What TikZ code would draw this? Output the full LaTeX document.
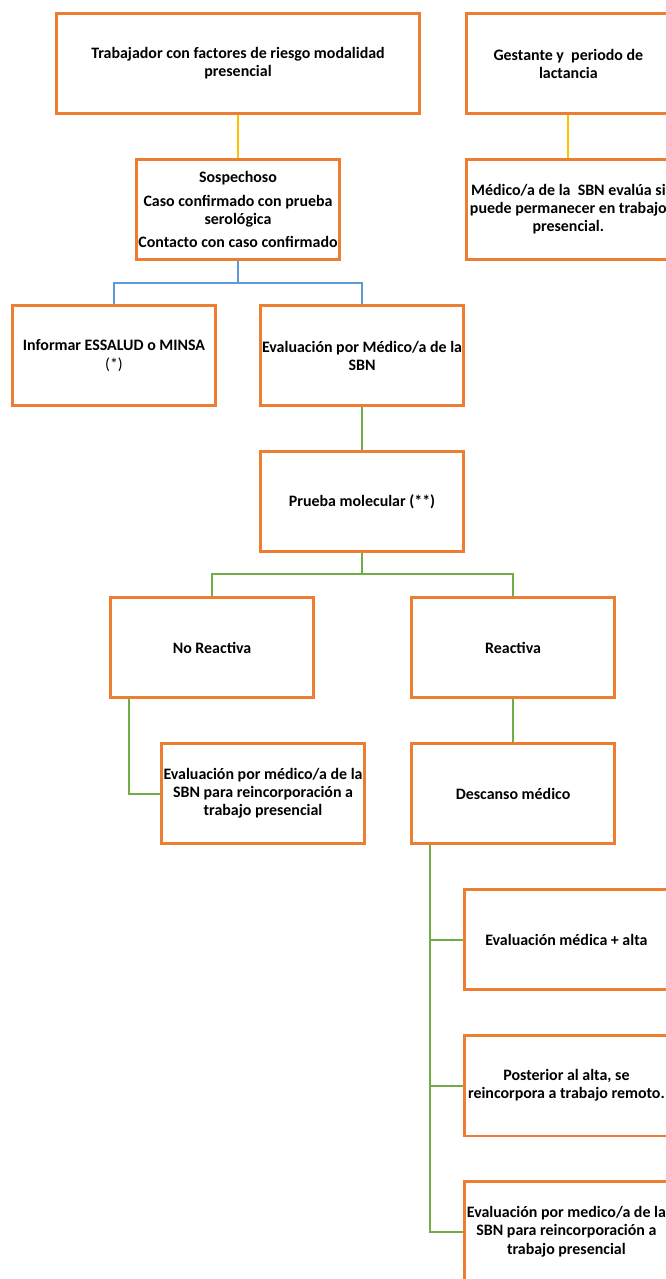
\documentclass[tikz,border=0pt]{standalone}
\usepackage{fontspec}
\setmainfont{Carlito}
\usepackage{xcolor}
\definecolor{fcOrangeDraw}{RGB}{237,125,49}
\definecolor{fcYellowLine}{RGB}{255,192,0}
\definecolor{fcBlueLine}{RGB}{91,155,213}
\definecolor{fcGreenLine}{RGB}{112,173,71}
\usetikzlibrary{positioning}

\begin{document}
\begin{tikzpicture}[
    fcbox/.style={draw=fcOrangeDraw, line width=2.3pt, fill=white, align=center,
      minimum width=6.1cm, minimum height=3.01cm, inner sep=0pt,
      font=\bfseries\fontsize{13.6}{15.4}\selectfont},
    widebox/.style={fcbox, minimum width=10.9cm},
    link/.style={line width=1.7pt},
    yellowlink/.style={link, draw=fcYellowLine},
    bluelink/.style={link, draw=fcBlueLine},
    greenlink/.style={link, draw=fcGreenLine},
    node distance=1.29cm and 1.26cm
  ]
    \fill[white] (0,0) rectangle (19.98,-38.37);
    \useasboundingbox (0,0) rectangle (19.98,-38.37);
    \clip (0,0) rectangle (19.98,-38.37);

    \node[widebox] (trabajador) at (7.14,-1.905) {Trabajador con factores de riesgo modalidad\\presencial};
    \node[fcbox, right=1.33cm of trabajador] (gestante) {Gestante y\ \ periodo de\\lactancia};

    \node[fcbox, below=of trabajador] (sospechoso) {Sospechoso\\[5pt]Caso confirmado con prueba\\serológica\\[5pt]Contacto con caso confirmado};
    \node[fcbox, below=of gestante] (medico) {Médico/a de la\ \ SBN evalúa si\\puede permanecer en trabajo\\presencial.};

    \node[fcbox, below=of sospechoso, xshift=-3.72cm] (informar) {Informar ESSALUD o MINSA\\{\mdseries(*)}};
    \node[fcbox, right=of informar] (evaluacion) {Evaluación por Médico/a de la\\SBN};
    \node[fcbox, below=of evaluacion] (prueba) {Prueba molecular (**)};

    \node[fcbox, below=of prueba, xshift=-4.5cm] (noreactiva) {No Reactiva};
    \node[fcbox, right=2.85cm of noreactiva] (reactiva) {Reactiva};
    \node[fcbox, below=of noreactiva, xshift=1.53cm] (reingreso) {Evaluación por médico/a de la\\SBN para reincorporación a\\trabajo presencial};
    \node[fcbox, below=of reactiva] (descanso) {Descanso médico};

    \node[fcbox, below=of descanso, xshift=1.6cm] (alta) {Evaluación médica + alta};
    \node[fcbox, below=of alta] (remoto) {Posterior al alta, se\\reincorpora a trabajo remoto.};
    \node[fcbox, below=of remoto] (presencial) {Evaluación por medico/a de la\\SBN para reincorporación a\\trabajo presencial};

    \draw[yellowlink] (trabajador) -- (sospechoso);
    \draw[yellowlink] (gestante) -- (medico);
    \draw[bluelink] (sospechoso.south) -- ++(0,-0.645) -| (informar.north);
    \draw[bluelink] (sospechoso.south) -- ++(0,-0.645) -| (evaluacion.north);
    \draw[greenlink] (evaluacion) -- (prueba);
    \draw[greenlink] (prueba.south) -- ++(0,-0.63) -| (noreactiva.north);
    \draw[greenlink] (prueba.south) -- ++(0,-0.63) -| (reactiva.north);
    \draw[greenlink] ([xshift=0.6cm]noreactiva.south west) |- (reingreso.west);
    \draw[greenlink] (reactiva) -- (descanso);
    \draw[greenlink] ([xshift=0.6cm]descanso.south west) |- (alta.west);
    \draw[greenlink] ([xshift=0.6cm]descanso.south west) |- (remoto.west);
    \draw[greenlink] ([xshift=0.6cm]descanso.south west) |- (presencial.west);
  \end{tikzpicture}
\end{document}
